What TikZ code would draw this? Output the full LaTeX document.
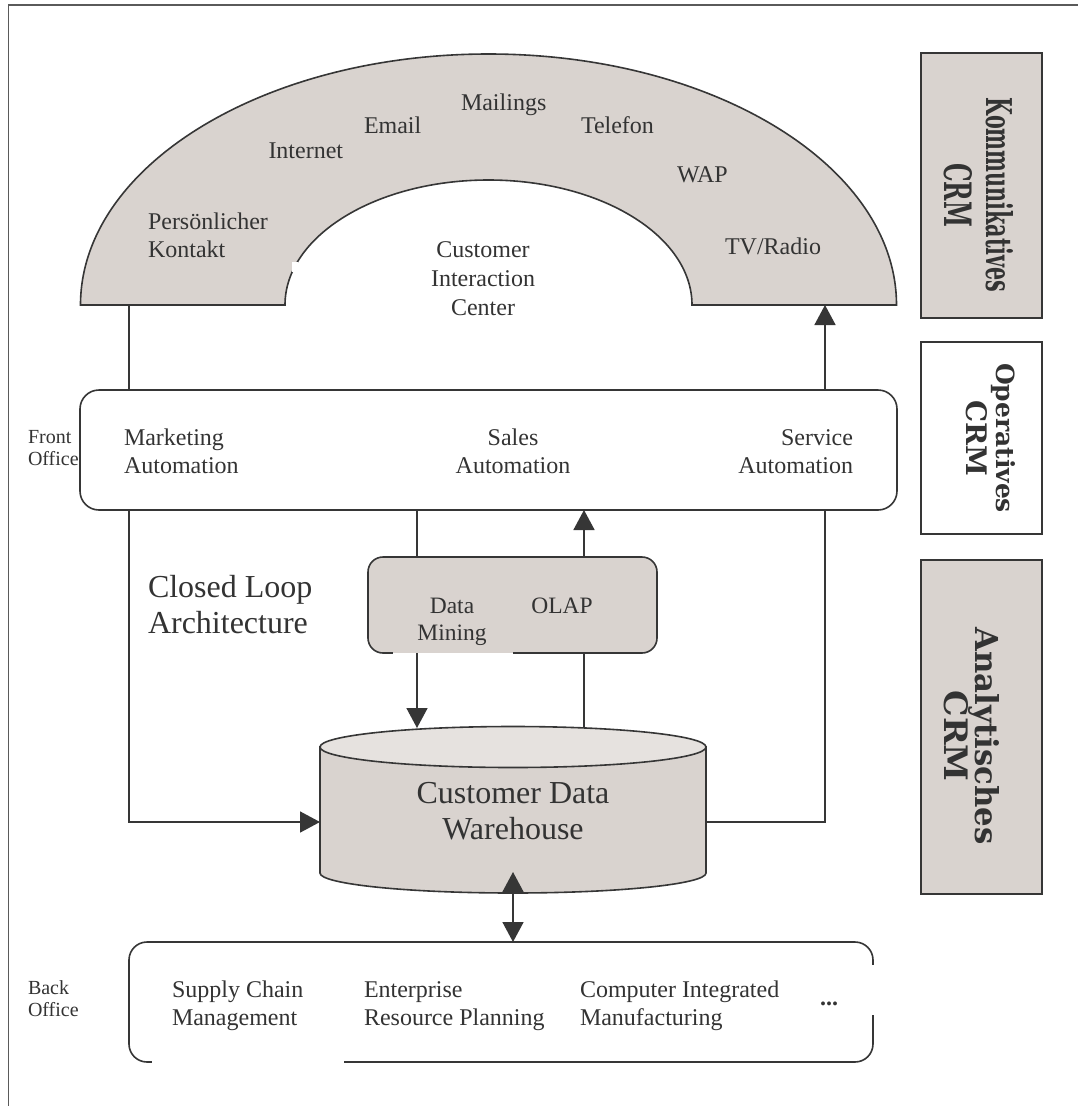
\documentclass[tikz,border=0pt]{standalone}
\usepackage{fontspec}
\setmainfont{Liberation Serif}
\newfontfamily\crmfont{DejaVu Serif}
\usetikzlibrary{arrows.meta}

\definecolor{ink}{HTML}{363636}
\definecolor{txt}{HTML}{333333}
\definecolor{panel}{HTML}{D9D3CF}
\definecolor{paneltop}{HTML}{E6E2DF}
\definecolor{framegray}{HTML}{5A5A5A}

\newcommand\tabtext[2]{\begin{tabular}[t]{@{}#1@{}}#2\end{tabular}}
% one rotated label line: length, glyph height, text
\newcommand\crmline[3]{\resizebox{#1pt}{#2pt}{\crmfont\bfseries #3}}

\begin{document}
\begin{tikzpicture}[x=1pt,y=-1pt,line width=1.6pt,
  every node/.style={inner sep=0pt,outer sep=0pt,text=txt},
  conn/.style={draw=ink,line width=1.6pt},
  arr/.style={conn,-{Triangle[length=20pt,width=21pt]}},
  darr/.style={conn,{Triangle[length=20pt,width=21pt]}-{Triangle[length=20pt,width=21pt]}},
  body/.style={font=\fontsize{24}{28}\selectfont},
  small/.style={font=\fontsize{20}{22.5}\selectfont},
  big/.style={font=\fontsize{32}{36.5}\selectfont},
  roundbox/.style={draw=ink,line width=1.6pt,rectangle},
  vlabel/.style={rotate=-90,anchor=base}]

\useasboundingbox (0,0) rectangle (1078,1106);
\fill[white] (0,0) rectangle (1078,1106);

% outer frame (left and top edges)
\draw[framegray,line width=1.5pt] (8.5,1106) -- (8.5,5) -- (1078,5);

% channel arch
\filldraw[fill=panel,draw=ink,line width=1.6pt]
  (80.5,305) .. controls (80.5,166.4) and (263.2,54) .. (488.5,54)
  .. controls (713.8,54) and (896.5,166.4) .. (896.5,305)
  -- (692,305)
  .. controls (692,236) and (600.9,180) .. (488.5,180)
  .. controls (376.1,180) and (285,236) .. (285,305)
  -- cycle;
\fill[white] (292,262) rectangle (297.5,272);

\node[body,anchor=base west] (pers) at (148,229) {\tabtext{l}{Persönlicher\\Kontakt}};
\node[body,anchor=base west] (inet) at (268.5,158) {Internet};
\node[body,anchor=base west] (mail) at (364,133) {Email};
\node[body,anchor=base west] (mlg) at (461,110) {Mailings};
\node[body,anchor=base west] (tel) at (581,133) {Telefon};
\node[body,anchor=base west] (wap) at (677,182) {WAP};
\node[body,anchor=base west] (tv) at (725,254) {TV/Radio};
\node[font=\fontsize{24}{29}\selectfont,anchor=base] (cic) at (483,257)
  {\tabtext{c}{Customer\\Interaction\\Center}};

\coordinate (archL) at (129,305);
\coordinate (archR) at (825,305);

% front office
\node[roundbox,fill=white,rounded corners=19pt,minimum width=817pt,minimum height=120pt]
  (front) at (488.5,450) {};
\node[small,anchor=base west] (frontlab) at (28,443) {\tabtext{l}{Front\\Office}};
\node[body,anchor=base west] (mkt) at (124,445) {\tabtext{l}{Marketing\\Automation}};
\node[body,anchor=base] (sales) at (513,445) {\tabtext{c}{Sales\\Automation}};
\node[body,anchor=base east] (serv) at (853,445) {\tabtext{r}{Service\\Automation}};

% analysis box
\node[roundbox,fill=panel,rounded corners=15pt,minimum width=289pt,minimum height=96pt]
  (dm) at (512.5,605) {};
\fill[panel] (393,650) rectangle (513,652.9);
\fill[white] (393,652.9) rectangle (513,655);
\node[font=\fontsize{23.5}{27}\selectfont,anchor=base] (dmin) at (452,613) {\tabtext{c}{Data\\Mining}};
\node[font=\fontsize{23.5}{27}\selectfont,anchor=base] (olap) at (562,613) {OLAP};

\node[big,anchor=base west] (cla) at (148,597) {\tabtext{l}{Closed Loop\\Architecture}};

% data warehouse cylinder
\filldraw[fill=panel,draw=ink,line width=1.6pt]
  (320,747) -- (320,873)
  .. controls (320,884) and (406.4,893) .. (513,893)
  .. controls (619.6,893) and (706,884) .. (706,873)
  -- (706,747) -- cycle;
\filldraw[fill=paneltop,draw=ink,line width=1.6pt] (513,747) ellipse [x radius=193,y radius=20.5];
\node[minimum width=386pt,minimum height=126pt] (dw) at (513,810) {};
\node[big,anchor=base] (dwlab) at (513,803) {\tabtext{c}{Customer Data\\Warehouse}};

\coordinate (dmx) at (417,605);
\coordinate (olx) at (584,605);
\coordinate (dwtopL) at (417,728);
\coordinate (dwtopR) at (584,727.5);
\coordinate (dwbase) at (513,872);
\coordinate (loopL) at (129,822);
\coordinate (loopR) at (825,822);

% back office
\node[roundbox,fill=white,rounded corners=18pt,minimum width=744pt,minimum height=120pt]
  (bo) at (501,1002) {};
\fill[white] (869,965) rectangle (877,1015);
\fill[white] (152,1059) rectangle (344,1067);
\node[small,anchor=base west] (bolab) at (28,994) {\tabtext{l}{Back\\Office}};
\node[body,anchor=base west] (scm) at (172,997) {\tabtext{l}{Supply Chain\\Management}};
\node[body,anchor=base west] (erp) at (364,997) {\tabtext{l}{Enterprise\\Resource Planning}};
\node[body,anchor=base west] (cim) at (580,997) {\tabtext{l}{Computer Integrated\\Manufacturing}};
\node[body,anchor=base west] (more) at (820,1005.5) {\textbf{...}};

% connectors
\draw[conn] (archL) -- (archL |- front.north);
\draw[arr] (archR |- front.north) -- (archR);
\draw[arr] (loopL |- front.south) -- (loopL) -- (dw.west |- loopL);
\draw[conn] (dw.east |- loopR) -- (loopR) -- (loopR |- front.south);
\draw[conn] (dmx |- front.south) -- (dmx |- dm.north);
\draw[arr] (dmx |- dm.south) -- (dwtopL);
\draw[conn] (dwtopR) -- (olx |- dm.south);
\draw[arr] (olx |- dm.north) -- (olx |- front.south);
\draw[darr] (dwbase) -- (dwbase |- bo.north);

% CRM layer labels
\filldraw[fill=panel,draw=ink,line width=1.8pt] (921,53) rectangle (1042,318);
\node[vlabel] (kl1) at (986,195) {\crmline{195}{27}{Kommunikatives}};
\node[vlabel] (kl2) at (944,195) {\crmline{64}{28}{CRM}};

\filldraw[fill=white,draw=ink,line width=1.8pt] (921,342) rectangle (1042,534);
\node[vlabel] (ol1) at (996,438) {\crmline{150}{19}{Operatives}};
\node[vlabel] (ol2) at (966,438) {\crmline{76}{21}{CRM}};

\filldraw[fill=panel,draw=ink,line width=1.8pt] (921,560) rectangle (1042,894);
\node[vlabel] (al1) at (975,736) {\crmline{217}{24}{Analytisches}};
\node[vlabel] (al2) at (944,736) {\crmline{91}{24}{CRM}};
\end{tikzpicture}
\end{document}
